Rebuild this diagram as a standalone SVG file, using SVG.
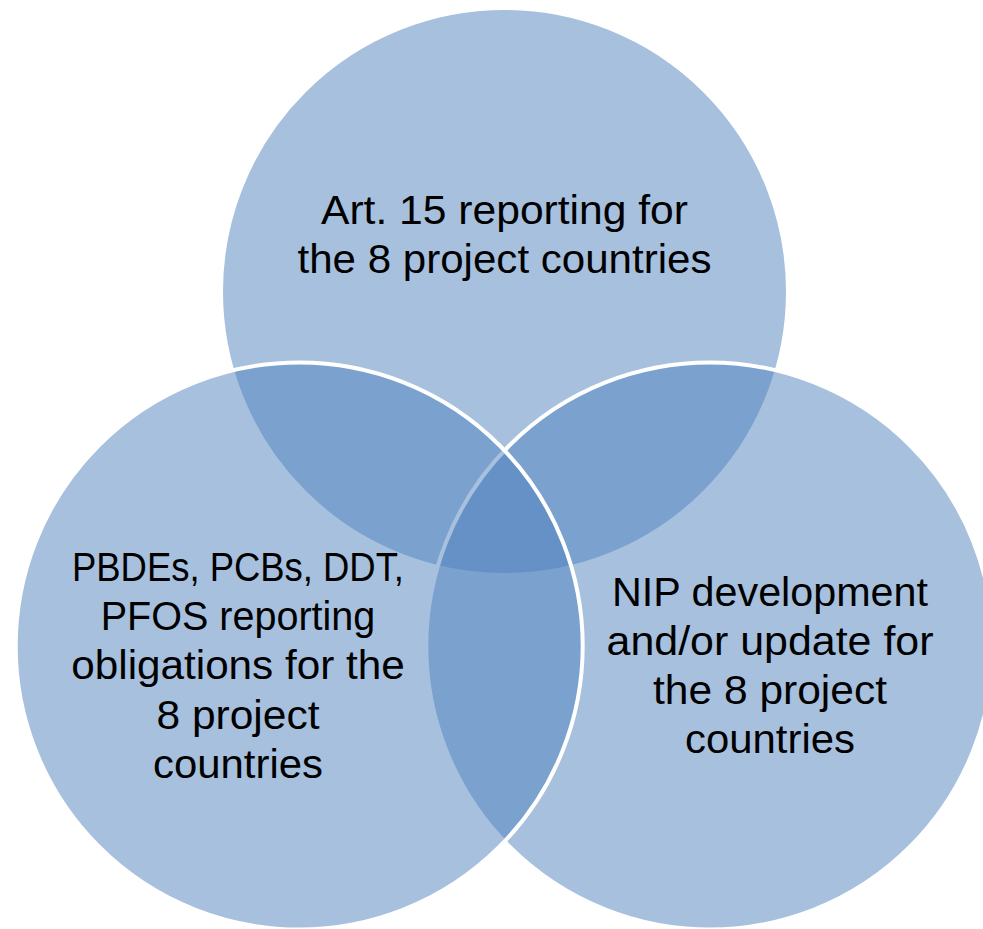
<svg xmlns="http://www.w3.org/2000/svg" width="983" height="929" viewBox="0 0 983 929">
<style>
.c{fill:#4F81BD;fill-opacity:0.5;stroke:#FFFFFF;stroke-width:4}
.t{font-family:"Liberation Sans",Arial,sans-serif;font-size:40px;fill:#000000;text-anchor:middle}
</style>
<rect width="983" height="929" fill="#FFFFFF"/>
<g id="node-art15">
<circle class="c" cx="504.5" cy="291.5" r="283.5"/>
<text class="t" x="504.5" y="223.5" textLength="367" lengthAdjust="spacingAndGlyphs">Art. 15 reporting for</text>
<text class="t" x="504.5" y="272.7" textLength="414" lengthAdjust="spacingAndGlyphs">the 8 project countries</text>
</g>
<g id="node-nip">
<circle class="c" cx="709.8" cy="646" r="283.5"/>
<text class="t" x="770" y="605.7" textLength="316" lengthAdjust="spacingAndGlyphs">NIP development</text>
<text class="t" x="770" y="654.9" textLength="327" lengthAdjust="spacingAndGlyphs">and/or update for</text>
<text class="t" x="770" y="704.1" textLength="234" lengthAdjust="spacingAndGlyphs">the 8 project</text>
<text class="t" x="770" y="753.3" textLength="170" lengthAdjust="spacingAndGlyphs">countries</text>
</g>
<g id="node-pops">
<circle class="c" cx="299.2" cy="646" r="283.5"/>
<text class="t" x="238" y="581" textLength="332" lengthAdjust="spacingAndGlyphs">PBDEs, PCBs, DDT,</text>
<text class="t" x="238" y="630.2" textLength="274.5" lengthAdjust="spacingAndGlyphs">PFOS reporting</text>
<text class="t" x="238" y="679.4" textLength="333.5" lengthAdjust="spacingAndGlyphs">obligations for the</text>
<text class="t" x="238" y="728.6" textLength="163" lengthAdjust="spacingAndGlyphs">8 project</text>
<text class="t" x="238" y="777.8" textLength="170" lengthAdjust="spacingAndGlyphs">countries</text>
</g>
<g id="connectors"/>
</svg>
